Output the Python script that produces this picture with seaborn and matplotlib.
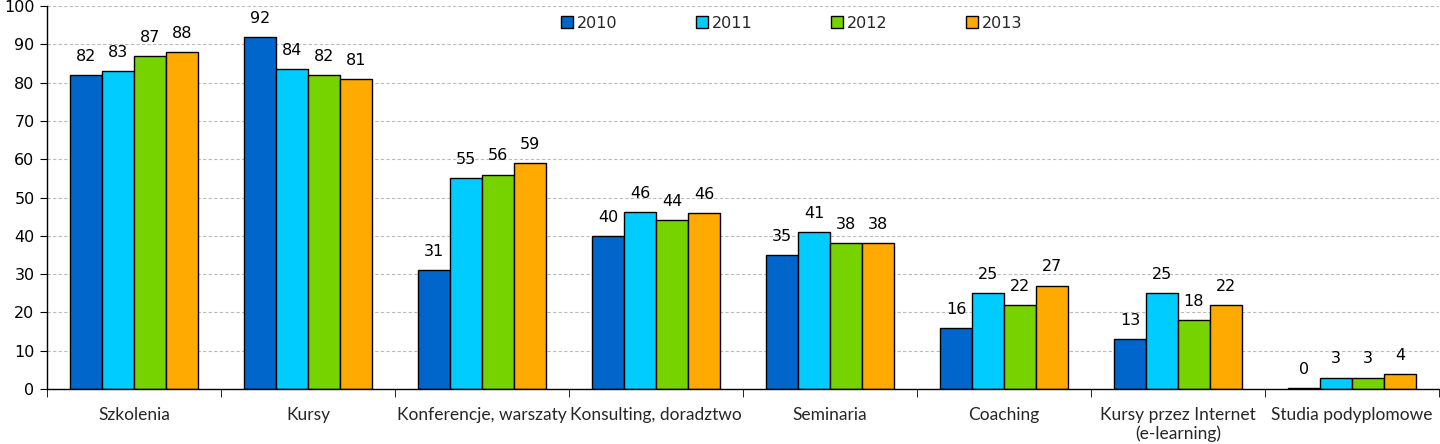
import matplotlib
matplotlib.use("Agg")
import matplotlib.pyplot as plt
import seaborn as sns
import pandas as pd
import numpy as np
from matplotlib.ticker import FixedLocator

categories = ["Szkolenia", "Kursy", "Konferencje, warszaty", "Konsulting, doradztwo",
              "Seminaria", "Coaching", "Kursy przez Internet\n(e-learning)", "Studia podyplomowe"]
years = ["2010", "2011", "2012", "2013"]
v2010 = [82, 92, 31, 40, 35, 16, 13, 0.3]
v2011 = [83, 83.5, 55, 46.3, 41, 25, 25, 3]
v2012 = [87, 82, 56, 44, 38, 22, 18, 3]
v2013 = [88, 81, 59, 46, 38, 27, 22, 4]
colors = ["#0066CC", "#00CCFF", "#77D300", "#FFAA00"]

rows = []
for y, vals in zip(years, [v2010, v2011, v2012, v2013]):
    for c, v in zip(categories, vals):
        rows.append({"cat": c, "year": y, "val": v})
df = pd.DataFrame(rows)

sns.set_style("white")
plt.rcParams["font.family"] = ["DejaVu Sans"]

fig = plt.figure(figsize=(14.4, 4.44), dpi=100)
ax = fig.add_axes([47/1440, 1 - 389/444, 1 - 47/1440 - 1/1440, (389 - 6)/444])

sns.barplot(data=df, x="cat", y="val", hue="year", order=categories, hue_order=years,
            palette=colors, width=0.735, edgecolor="black", linewidth=1,
            saturation=1, ax=ax, legend=True, errorbar=None)

for cont in ax.containers:
    labels = [f"{round(b.get_height()):d}" for b in cont]
    ax.bar_label(cont, labels=labels, padding=8, fontsize=11.5, color="black")

ax.set_ylim(0, 100)
ax.set_xlim(-0.5, len(categories) - 0.5)
ax.set_yticks(np.arange(0, 101, 10))
ax.yaxis.grid(True, linestyle=(0, (3, 2)), color="#BBBBBB", linewidth=0.8)
ax.set_axisbelow(True)
for s in ["top", "right"]:
    ax.spines[s].set_visible(False)
ax.spines["left"].set_color("black")
ax.spines["bottom"].set_color("black")
ax.spines["left"].set_linewidth(1)
ax.spines["bottom"].set_linewidth(1)

ax.tick_params(axis="y", which="major", length=5, direction="out", left=True,
               labelsize=11.5, pad=4, colors="black")
ax.tick_params(axis="x", which="major", length=0, pad=13)
ax.xaxis.set_minor_locator(FixedLocator(np.arange(-0.5, len(categories), 1.0)))
ax.tick_params(axis="x", which="minor", length=6, direction="out", bottom=True, color="black")
for lab in ax.get_xticklabels():
    lab.set_fontfamily(["Lato", "DejaVu Sans"])
    lab.set_fontsize(12.5)
    lab.set_verticalalignment("top")
ax.set_xlabel("")
ax.set_ylabel("")

handles, labs = ax.get_legend_handles_labels()
ax.legend(handles, labs, loc="upper center", bbox_to_anchor=(0.535, 1.0), ncol=4,
          frameon=False, fontsize=11.5, columnspacing=4.9, handlelength=0.75,
          handleheight=0.75, handletextpad=0.25, borderaxespad=0.2)

fig.savefig("out.png", dpi=100)
